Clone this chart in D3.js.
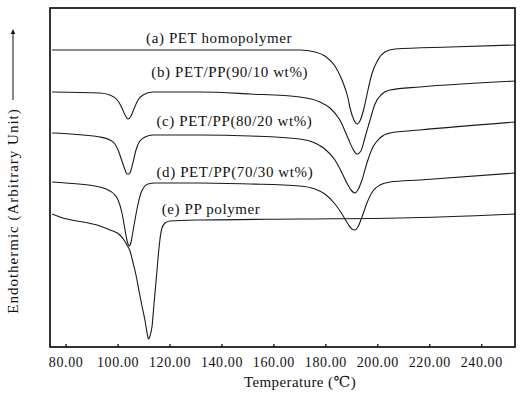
<!DOCTYPE html>
<html>
<head>
<meta charset="utf-8">
<script src="https://cdn.jsdelivr.net/npm/d3@7"></script>
<style>
  html, body { margin: 0; padding: 0; background: #fff; }
  svg { display: block; }
  text { font-family: "Liberation Serif", "DejaVu Serif", serif; fill: #111; }
</style>
</head>
<body>
<svg id="chart" width="525" height="395"></svg>
<script>
// DSC traces: temperature (°C) and heat-flow signal (arbitrary units, endotherm up)
const seriesNames = [
  "(a) PET homopolymer",
  "(b) PET/PP(90/10 wt%)",
  "(c) PET/PP(80/20 wt%)",
  "(d) PET/PP(70/30 wt%)",
  "(e) PP polymer"
];

const petTemp = [74.8, 130, 170.2, 176.0, 179.8, 183.7, 186.4, 188.7, 189.5, 191.0, 192.2, 193.3, 194.9, 196.4, 197.9, 200.2, 202.9, 206.8, 228.0, 253.0];
const petSignal = [298, 298, 298, 296, 292, 282, 268, 250, 240, 228, 224, 227, 240, 258, 274, 288, 296, 299, 301, 303];

const blend90Temp = [74.8, 93.2, 97.1, 100.2, 101.7, 102.9, 104.0, 105.2, 106.3, 107.9, 109.8, 113.6, 131.7, 151.0, 170.2, 177.9, 181.8, 185.6, 188.7, 190.6, 192.2, 193.7, 195.2, 197.2, 199.1, 201.8, 204.9, 216.4, 253.0];
const blend90Signal = [256, 255, 253, 247, 240, 233, 229, 232, 239, 248, 253, 256, 256, 254, 251, 246, 240, 228, 210, 199, 194, 197, 210, 228, 244, 254, 258, 261, 267];

const blend80Temp = [74.8, 93.2, 97.1, 99.0, 100.2, 101.7, 102.9, 103.6, 104.4, 105.2, 105.9, 107.1, 108.6, 110.6, 113.6, 131.7, 151.0, 170.2, 176.0, 179.8, 183.7, 186.4, 188.7, 190.2, 191.4, 192.5, 194.1, 196.0, 198.3, 201.0, 204.9, 216.4, 253.0];
const blend80Signal = [215, 211, 208, 204, 198, 187, 178, 174, 174, 178, 185, 198, 207, 211, 213, 213, 212, 209, 205, 199, 188, 175, 163, 157, 155, 158, 168, 185, 201, 210, 215, 218, 226];

const blend70Temp = [74.8, 80.0, 93.2, 97.1, 99.0, 100.2, 101.7, 102.5, 103.3, 104.0, 104.6, 105.2, 105.9, 106.7, 107.9, 109.0, 110.2, 111.7, 114.4, 131.7, 151.0, 170.2, 176.0, 179.8, 183.7, 186.4, 188.7, 190.2, 191.4, 192.5, 194.1, 196.0, 198.3, 201.0, 204.9, 216.4, 253.0];
const blend70Signal = [166, 165, 161, 157, 153, 148, 135, 124, 112, 104, 102, 106, 116, 128, 144, 155, 161, 164, 165, 165, 164, 162, 159, 154, 144, 134, 124, 119, 118, 121, 131, 145, 157, 163, 166, 168, 175];

const ppTemp = [74.8, 77.8, 93.2, 97.1, 100.9, 102.5, 103.6, 104.8, 105.9, 107.1, 108.2, 109.4, 110.6, 111.3, 111.9, 112.5, 113.3, 114.0, 114.8, 115.6, 116.3, 117.1, 118.3, 120.2, 131.7, 170.2, 208.7, 253.0];
const ppSignal = [134, 131, 122, 118, 113, 108, 103, 97, 86, 73, 58, 42, 27, 16, 9, 12, 22, 43, 66, 90, 108, 120, 125, 127, 128, 129, 130, 134];

const xTicks = [80, 100, 120, 140, 160, 180, 200, 220, 240];
const xTitle = "Temperature (\u2103)";
const yTitle = "Endothermic (Arbitrary Unit)";

// ---- layout ----
const frame = { left: 50, right: 515, top: 8, bottom: 347 };

const x = d3.scaleLinear().domain([74, 253]).range([frame.left, frame.right]);
const y = d3.scaleLinear().domain([0, 340]).range([frame.bottom + 1, frame.bottom - 339]);

const traces = [
  { name: seriesNames[0], t: petTemp, s: petSignal },
  { name: seriesNames[1], t: blend90Temp, s: blend90Signal },
  { name: seriesNames[2], t: blend80Temp, s: blend80Signal },
  { name: seriesNames[3], t: blend70Temp, s: blend70Signal },
  { name: seriesNames[4], t: ppTemp, s: ppSignal }
];

// label anchor positions, in data coordinates (temperature, signal)
const labelAt = [
  { t: 111.0, s: 305 },
  { t: 113.0, s: 271 },
  { t: 115.0, s: 222 },
  { t: 115.0, s: 171 },
  { t: 117.0, s: 134 }
];

const svg = d3.select("#chart");

const line = d3.line()
  .x(d => x(d[0]))
  .y(d => y(d[1]))
  .curve(d3.curveMonotoneX);

svg.append("g")
  .selectAll("path")
  .data(traces)
  .join("path")
  .attr("d", d => line(d.t.map((tv, i) => [tv, d.s[i]])))
  .attr("fill", "none")
  .attr("stroke", "#1a1a1a")
  .attr("stroke-width", 1.1);

svg.append("g")
  .selectAll("text")
  .data(traces)
  .join("text")
  .attr("x", (d, i) => x(labelAt[i].t))
  .attr("y", (d, i) => y(labelAt[i].s))
  .attr("font-size", 15)
  .attr("letter-spacing", 0.6)
  .text(d => d.name);

// frame
svg.append("rect")
  .attr("x", frame.left).attr("y", frame.top)
  .attr("width", frame.right - frame.left)
  .attr("height", frame.bottom - frame.top)
  .attr("fill", "none")
  .attr("stroke", "#000")
  .attr("stroke-width", 1.6);

// bottom axis with short inward ticks
const xAxis = d3.axisBottom(x)
  .tickValues(xTicks)
  .tickSize(-3)
  .tickPadding(10)
  .tickFormat(d3.format(".2f"));

const gx = svg.append("g")
  .attr("transform", `translate(0,${frame.bottom})`)
  .call(xAxis);
gx.select(".domain").remove();
gx.selectAll(".tick line").attr("stroke", "#000").attr("stroke-width", 1.2);
gx.selectAll(".tick text")
  .attr("font-family", "Liberation Serif, DejaVu Serif, serif")
  .attr("font-size", 14)
  .attr("letter-spacing", 0.6)
  .attr("fill", "#111");

svg.append("text")
  .attr("x", 300)
  .attr("y", 387)
  .attr("text-anchor", "middle")
  .attr("font-size", 15)
  .attr("letter-spacing", 0.4)
  .text(xTitle);

// y title with upward arrow
const yTitleX = 18;
svg.append("text")
  .attr("transform", `translate(${yTitleX},211) rotate(-90)`)
  .attr("text-anchor", "middle")
  .attr("font-size", 15)
  .attr("letter-spacing", 1)
  .text(yTitle);

svg.append("line")
  .attr("x1", yTitleX - 5).attr("x2", yTitleX - 5)
  .attr("y1", 100).attr("y2", 32)
  .attr("stroke", "#111").attr("stroke-width", 1);
svg.append("path")
  .attr("d", `M${yTitleX - 5},29 l-2.2,5 l4.4,0 Z`)
  .attr("fill", "#111");
</script>
</body>
</html>
